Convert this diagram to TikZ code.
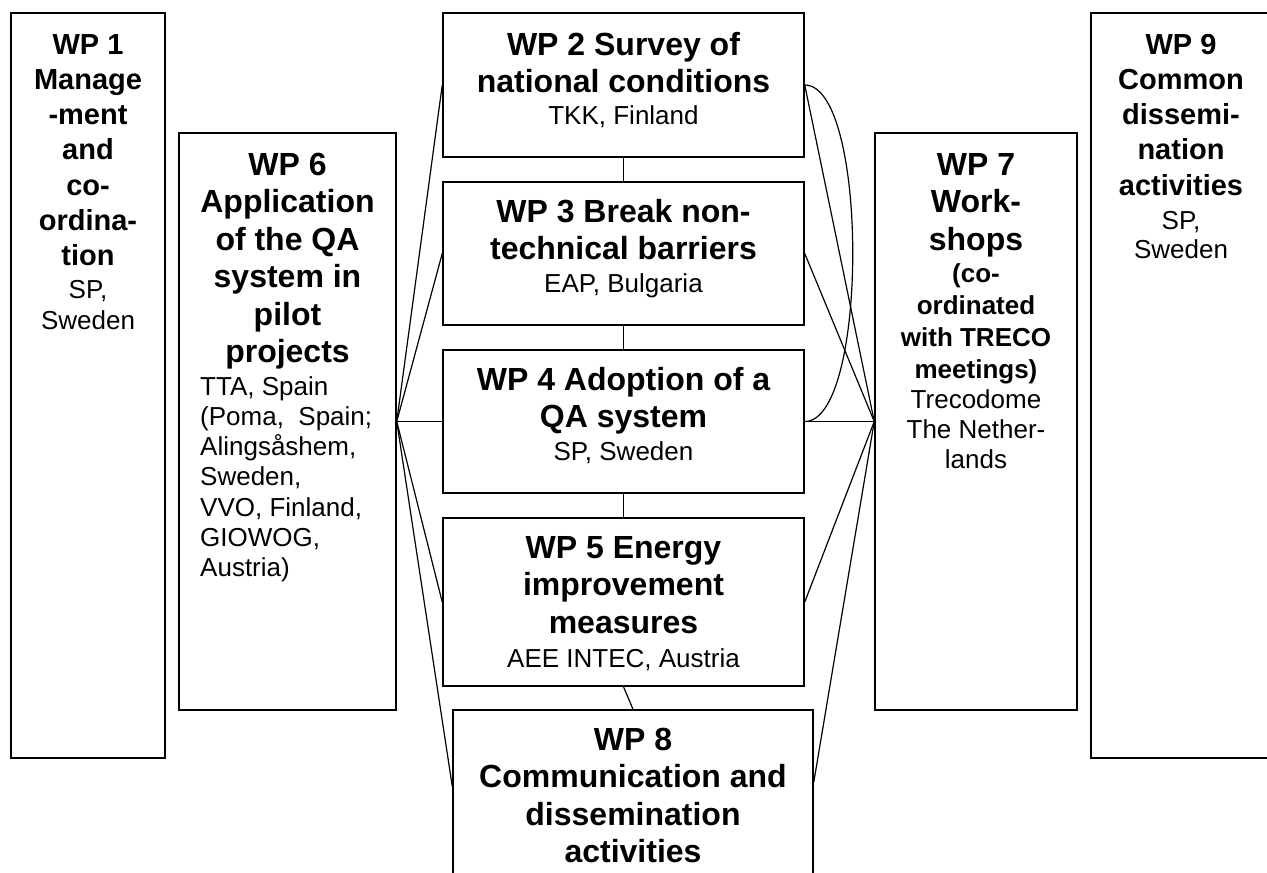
\documentclass[tikz,border=0pt]{standalone}
\usepackage{fontspec}
\setmainfont{Liberation Sans}
\usetikzlibrary{calc}
\newcommand\wpB{\fontsize{32}{37.5}\selectfont\bfseries}
\newcommand\wpS{\fontsize{29}{35.3}\selectfont\bfseries}
\newcommand\wpR{\fontsize{26}{30.3}\selectfont}
\newcommand\wpb{\fontsize{26}{32}\selectfont\bfseries}
\newcommand\wpT[1]{\begin{tabular}[t]{@{}c@{}}#1\end{tabular}}
\newcommand\wpL[1]{\begin{tabular}[t]{@{}l@{}}#1\end{tabular}}
\begin{document}
\begin{tikzpicture}[x=1pt,y=-1pt,
  box/.style={draw, line width=1.5pt, inner sep=0pt},
  conn/.style={line width=1.2pt},
  txt/.style={inner sep=0pt, anchor=base}]
\clip (0,0) rectangle (1267,873);
\fill[white] (0,0) rectangle (1267,873);
% boxes
\node[box, minimum width=154pt, minimum height=745pt] (wp1) at (88,385.5) {};
\node[box, minimum width=217pt, minimum height=577pt] (wp6) at (287.5,421.5) {};
\node[box, minimum width=361pt, minimum height=144pt] (wp2) at (623.5,85) {};
\node[box, minimum width=361pt, minimum height=143pt] (wp3) at (623.5,253.5) {};
\node[box, minimum width=361pt, minimum height=143pt] (wp4) at (623.5,421.5) {};
\node[box, minimum width=361pt, minimum height=168pt] (wp5) at (623.5,602) {};
\node[box, minimum width=360pt, minimum height=200pt] (wp8) at (633,810) {};
\node[box, minimum width=202pt, minimum height=577pt] (wp7) at (976,421.5) {};
\node[box, minimum width=180pt, minimum height=745pt] (wp9) at (1181,385.5) {};
% texts
\node[txt] (wp1t) at (88,54) {\wpS\wpT{WP 1\\Manage\\-ment\\and\\co-\\ordina-\\tion}};
\node[txt] (wp1o) at (88,298) {\fontsize{26}{31}\selectfont\wpT{SP,\\Sweden}};
\node[txt] (wp9t) at (1181,54) {\wpS\wpT{WP 9\\Common\\dissemi-\\nation\\activities}};
\node[txt] (wp9o) at (1181,229) {\fontsize{26}{29}\selectfont\wpT{SP,\\Sweden}};
\node[txt] (wp2t) at (623.5,55) {\wpB\wpT{WP 2 Survey of\\national conditions}};
\node[txt] (wp2o) at (623.5,124) {\wpR\wpT{TKK, Finland}};
\node[txt] (wp3t) at (623.5,222) {\wpB\wpT{WP 3 Break non-\\technical barriers}};
\node[txt] (wp3o) at (623.5,292) {\wpR\wpT{EAP, Bulgaria}};
\node[txt] (wp4t) at (623.5,390) {\wpB\wpT{WP 4 Adoption of a\\QA system}};
\node[txt] (wp4o) at (623.5,460) {\wpR\wpT{SP, Sweden}};
\node[txt] (wp5t) at (623.5,558) {\wpB\wpT{WP 5 Energy\\improvement\\measures}};
\node[txt] (wp5o) at (623.5,667) {\wpR\wpT{AEE INTEC, Austria}};
\node[txt] (wp8t) at (633,750) {\wpB\wpT{WP 8\\Communication and\\dissemination\\activities}};
\node[txt] (wp6t) at (287.5,175) {\wpB\wpT{WP 6\\Application\\of the QA\\system in\\pilot\\projects}};
\node[txt, anchor=base west] (wp6o) at (200,395) {\wpR\wpL{TTA, Spain\\(Poma,~ Spain;\\Alingsåshem,\\Sweden,\\VVO, Finland,\\GIOWOG,\\Austria)}};
\node[txt] (wp7t) at (976,175) {\wpB\wpT{WP 7\\Work-\\shops}};
\node[txt] (wp7s) at (976,282) {\wpb\wpT{(co-\\ordinated\\with TRECO\\meetings)}};
\node[txt] (wp7o) at (976,408) {\wpR\wpT{Trecodome\\The Nether-\\lands}};
% connector end points on WP8
\coordinate (wp8w) at ([yshift=-77pt]wp8.north west);
\coordinate (wp8e) at ([yshift=-73pt]wp8.north east);
% vertical chain
\draw[conn] (wp2.south) -- (wp3.north);
\draw[conn] (wp3.south) -- (wp4.north);
\draw[conn] (wp4.south) -- (wp5.north);
\draw[conn] (wp5.south) -- (wp8.north);
% left fan
\draw[conn] (wp6.east) -- (wp2.west);
\draw[conn] (wp6.east) -- (wp3.west);
\draw[conn] (wp6.east) -- (wp4.west);
\draw[conn] (wp6.east) -- (wp5.west);
\draw[conn] (wp6.east) -- (wp8w);
% right fan
\draw[conn] (wp7.west) -- (wp2.east);
\draw[conn] (wp7.west) -- (wp3.east);
\draw[conn] (wp7.west) -- (wp4.east);
\draw[conn] (wp7.west) -- (wp5.east);
\draw[conn] (wp7.west) -- (wp8e);
% arc WP2 - WP4
\draw[conn] (wp2.east) .. controls +(64,0) and +(64,0) .. (wp4.east);
\end{tikzpicture}
\end{document}
